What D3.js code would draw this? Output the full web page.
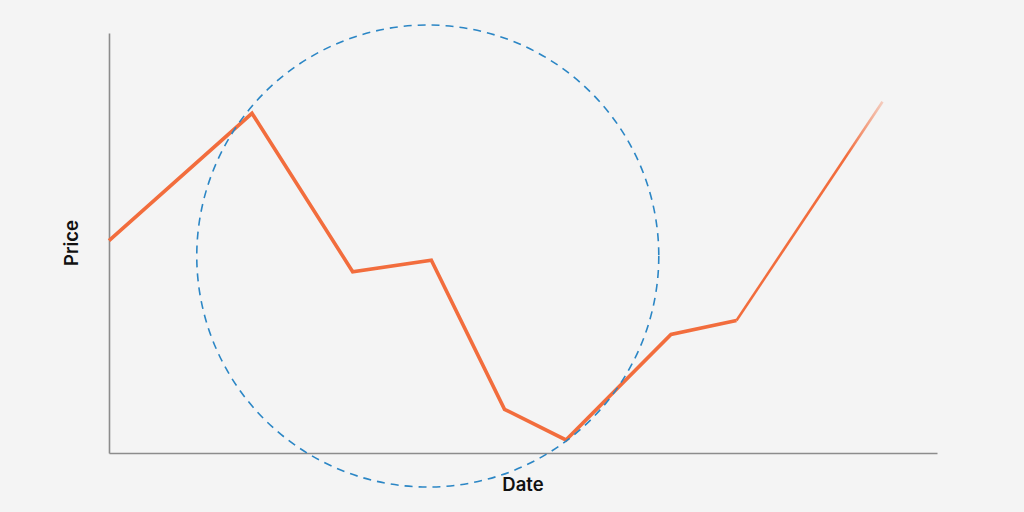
<!DOCTYPE html>
<html>
<head>
<meta charset="utf-8">
<script src="https://cdn.jsdelivr.net/npm/d3@7"></script>
<style>
  html, body { margin: 0; padding: 0; background: #f4f4f4; }
  svg { display: block; }
  text { font-family: Inter, "Open Sans", sans-serif; font-weight: 600; fill: #111; }
</style>
</head>
<body>
<svg id="chart" width="1024" height="512"></svg>
<script>
// Data (days since start, price index)
const days   = [0, 17.27, 29.43, 38.93, 47.77, 55.19, 67.87, 75.78, 93.42];
const prices = [50.55, 80.88, 43.17, 45.88, 10.40, 3.10, 28.21, 31.55, 83.64];
const xLabel = "Date";
const yLabel = "Price";
// Highlight circle annotation (data units)
const circleCenter = [38.5, 46.9];
const circleRadiusDays = 27.9;

const svg = d3.select("#chart");
const margin = { left: 109, right: 87, top: 33, bottom: 59 };
const W = 1024, H = 512;

svg.append("rect").attr("width", W).attr("height", H).attr("fill", "#f4f4f4");

const x = d3.scaleLinear().domain([0, 100]).range([margin.left, W - margin.right]);
const y = d3.scaleLinear().domain([0, 100]).range([H - margin.bottom, margin.top]);

// Axes (lines only)
const xAxis = d3.axisBottom(x).tickValues([]).tickSizeOuter(0);
const yAxis = d3.axisLeft(y).tickValues([]).tickSizeOuter(0);
svg.append("g").attr("transform", `translate(0,${y(0)})`).call(xAxis)
  .select(".domain").attr("stroke", "#8c8c8c").attr("stroke-width", 1.6);
svg.append("g").attr("transform", `translate(${x(0)},0)`).call(yAxis)
  .select(".domain").attr("stroke", "#8c8c8c").attr("stroke-width", 1.6);

// Gradient for fading line end
const defs = svg.append("defs");
const grad = defs.append("linearGradient")
  .attr("id", "fade").attr("gradientUnits", "userSpaceOnUse")
  .attr("x1", x(days[days.length - 2])).attr("x2", x(days[days.length - 1])).attr("y1", 0).attr("y2", 0);
grad.append("stop").attr("offset", "0.75").attr("stop-color", "#f26d3d").attr("stop-opacity", 1);
grad.append("stop").attr("offset", "1").attr("stop-color", "#f26d3d").attr("stop-opacity", 0.3);

const pts = days.map((d, i) => [d, prices[i]]);
const line = d3.line().x(d => x(d[0])).y(d => y(d[1]));

// Main line (all but last segment)
svg.append("path")
  .datum(pts.slice(0, pts.length - 1))
  .attr("d", line)
  .attr("fill", "none")
  .attr("stroke", "#f26d3d")
  .attr("stroke-width", 3.6)
  .attr("stroke-linejoin", "miter");
// Last segment thinner and fading
svg.append("path")
  .datum(pts.slice(pts.length - 2))
  .attr("d", line)
  .attr("fill", "none")
  .attr("stroke", "url(#fade)")
  .attr("stroke-width", 2.6);

// Dashed circle
svg.append("circle")
  .attr("cx", x(circleCenter[0]))
  .attr("cy", y(circleCenter[1]))
  .attr("r", x(circleRadiusDays) - x(0))
  .attr("fill", "none")
  .attr("stroke", "#2b86c5")
  .attr("stroke-width", 1.6)
  .attr("stroke-dasharray", "8,6");

// Axis labels
svg.append("text")
  .attr("x", (x(0) + x(100)) / 2)
  .attr("y", 491)
  .attr("text-anchor", "middle")
  .attr("font-size", 18.5)
  .text(xLabel);
svg.append("text")
  .attr("transform", `translate(78,${(y(0) + y(100)) / 2}) rotate(-90)`)
  .attr("text-anchor", "middle")
  .attr("font-size", 18.5)
  .text(yLabel);
</script>
</body>
</html>
